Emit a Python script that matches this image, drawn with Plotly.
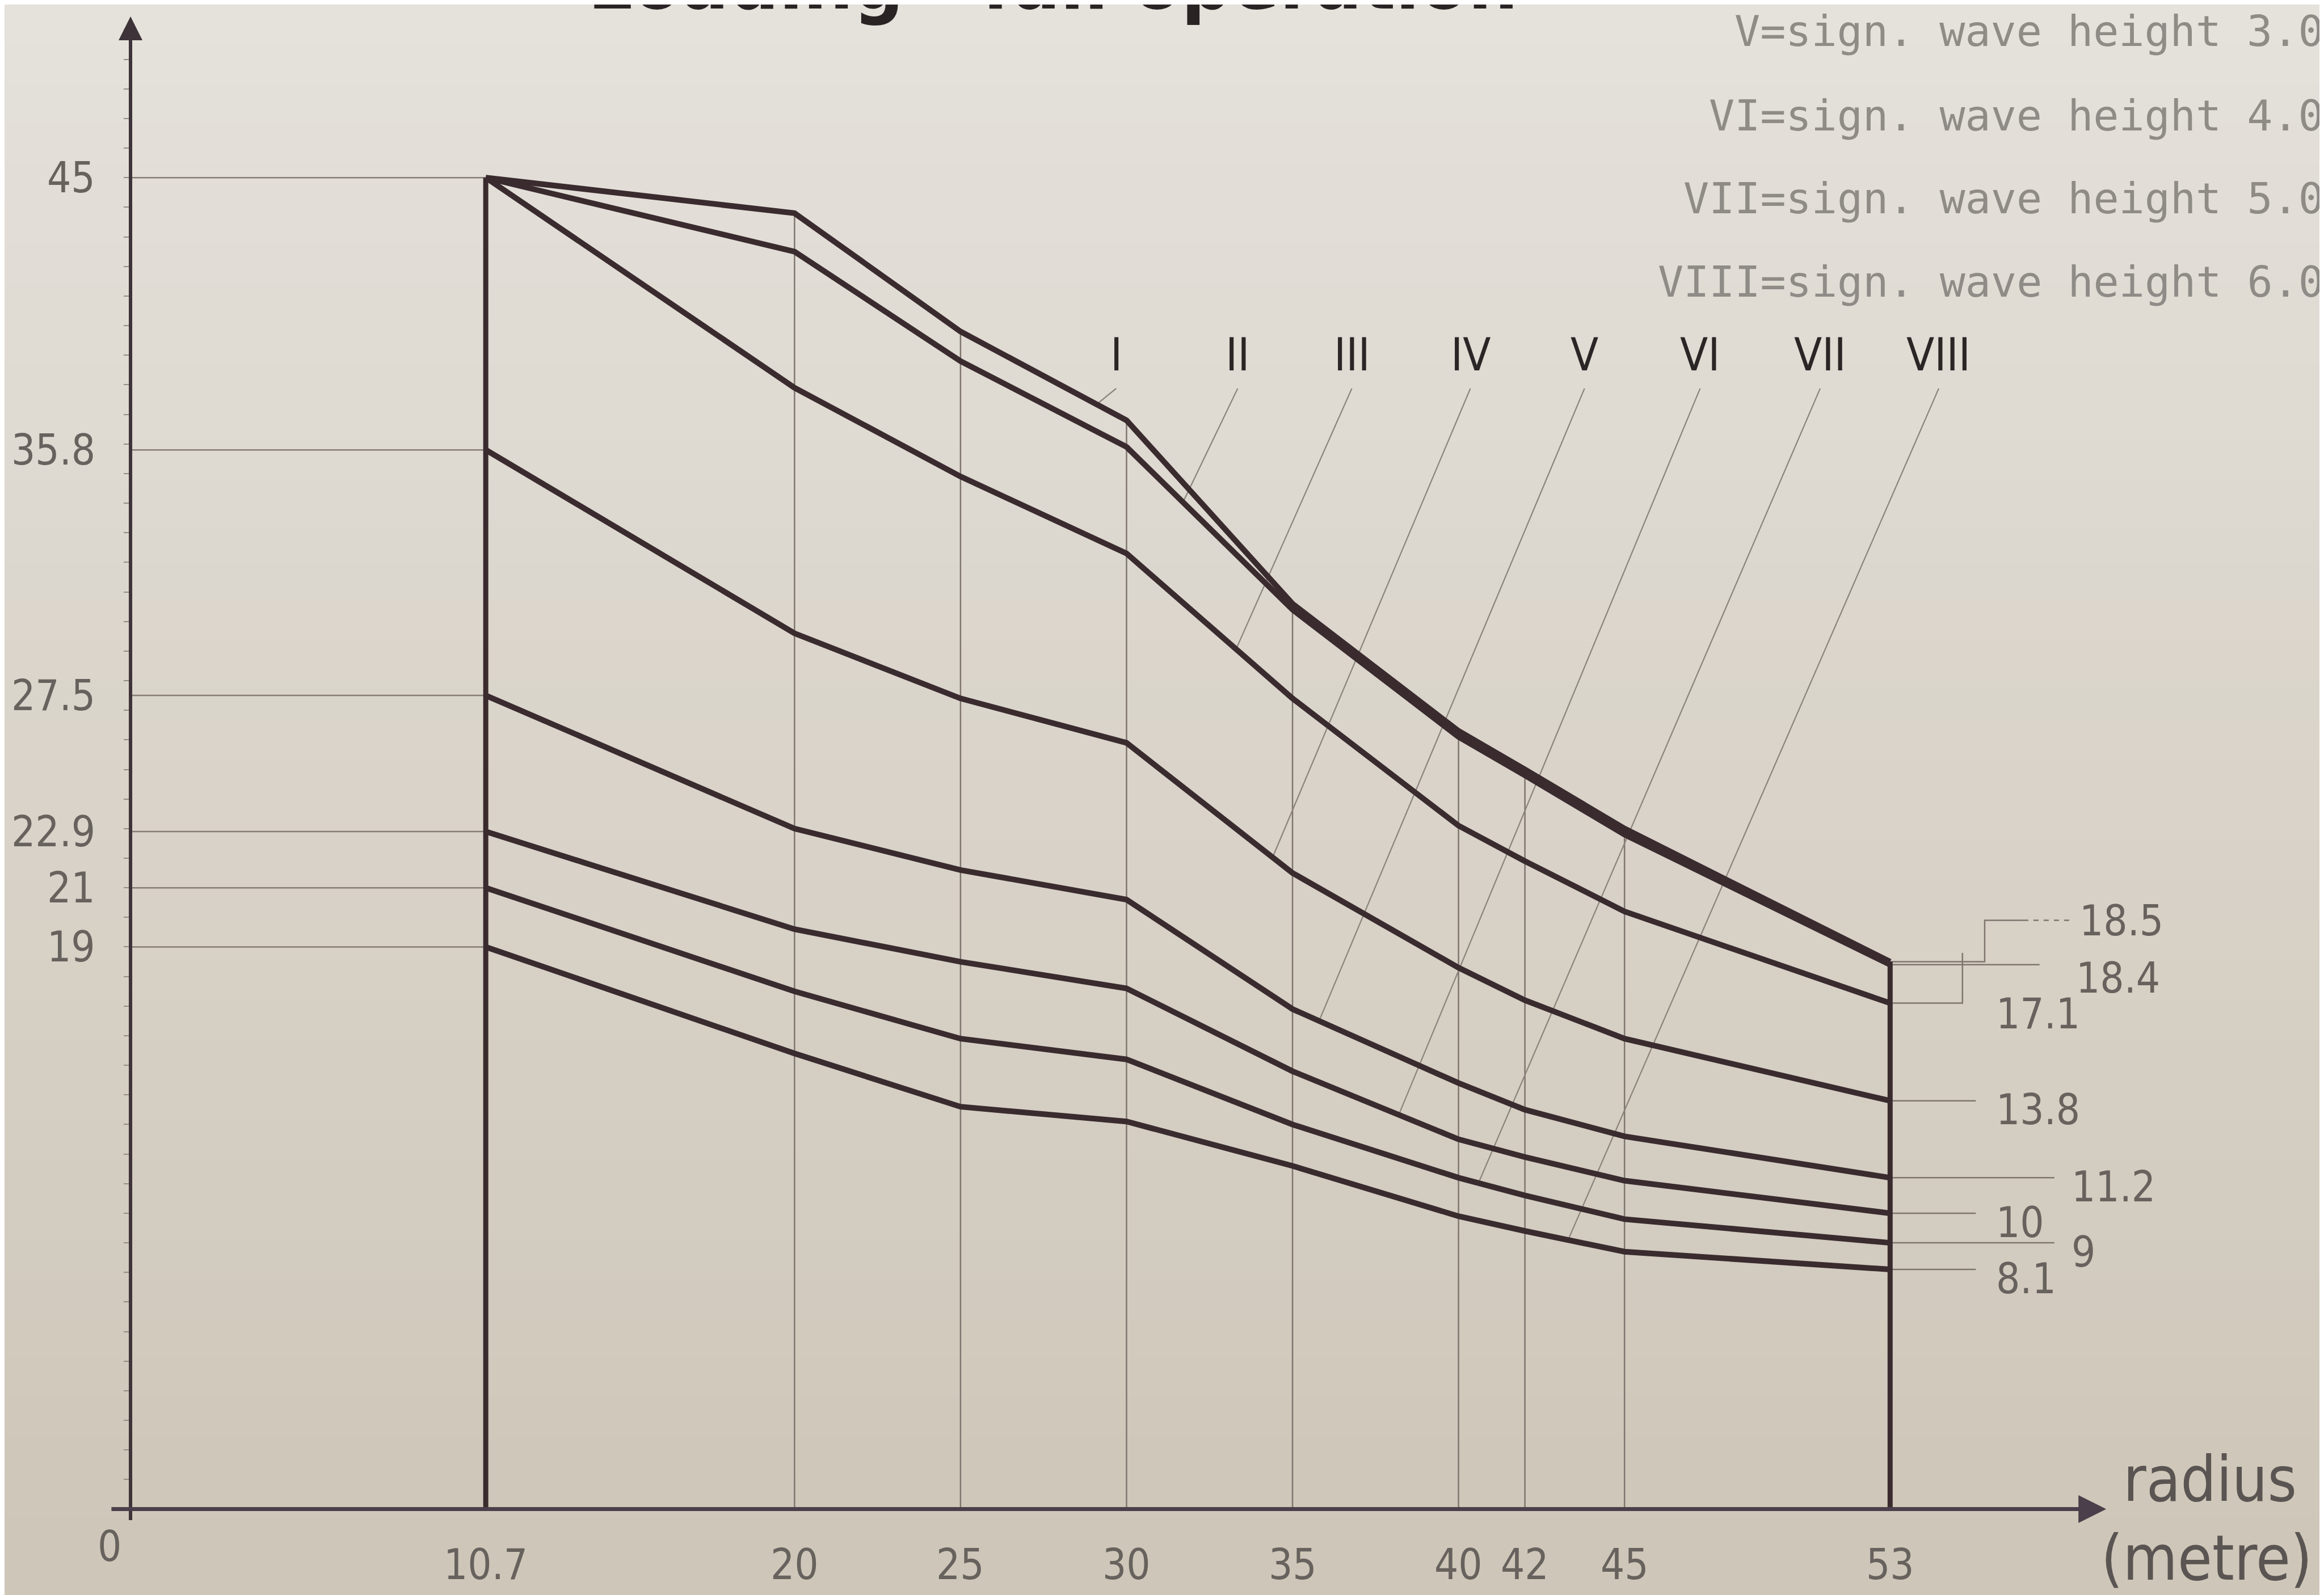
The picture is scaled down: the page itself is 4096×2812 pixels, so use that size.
import numpy as np
import plotly.graph_objects as go

# ---------------- data ----------------
radius = [10.7, 20, 25, 30, 35, 40, 42, 45, 53]
curve_names = ["I", "II", "III", "IV", "V", "VI", "VII", "VIII"]
curve_I = [45.0, 43.8, 39.8, 36.8, 30.6, 26.3, 25.0, 23.0, 18.5]
curve_II = [45.0, 42.5, 38.8, 35.9, 30.4, 26.1, 24.8, 22.8, 18.4]
curve_III = [45.0, 37.9, 34.9, 32.3, 27.4, 23.1, 21.9, 20.2, 17.1]
curve_IV = [35.8, 29.6, 27.4, 25.9, 21.5, 18.3, 17.2, 15.9, 13.8]
curve_V = [27.5, 23.0, 21.6, 20.6, 16.9, 14.4, 13.5, 12.6, 11.2]
curve_VI = [22.9, 19.6, 18.5, 17.6, 14.8, 12.5, 11.9, 11.1, 10.0]
curve_VII = [21.0, 17.5, 15.9, 15.2, 13.0, 11.2, 10.6, 9.8, 9.0]
curve_VIII = [19.0, 15.4, 13.6, 13.1, 11.6, 9.9, 9.4, 8.7, 8.1]

start_ticks = [45, 35.8, 27.5, 22.9, 21, 19]
start_labels = ["45", "35.8", "27.5", "22.9", "21", "19"]
radius_ticks = [0, 10.7, 20, 25, 30, 35, 40, 42, 45, 53]
radius_labels = ["0", "10.7", "20", "25", "30", "35", "40", "42", "45", "53"]
end_ticks = [18.5, 18.4, 17.1, 13.8, 11.2, 10, 9, 8.1]
end_labels = ["18.5", "18.4", "17.1", "13.8", "11.2", "10", "9", "8.1"]
legend_lines = [
    "V=sign. wave height 3.0",
    "VI=sign. wave height 4.0",
    "VII=sign. wave height 5.0",
    "VIII=sign. wave height 6.0",
]
title_text = "Loading - fall operation"
axis_title = ["radius", "(metre)"]

curves = [curve_I, curve_II, curve_III, curve_IV, curve_V, curve_VI, curve_VII, curve_VIII]

# ---------------- layout helpers (positions / styles) ----------------
W, H = 4096, 2812
K = W / 1568.0


def px_x(p):
    return (p - 85.0) / 22.4


def px_y(p):
    return (1015.0 - p) / 19.96


X_RANGE = [px_x(0), px_x(1568)]
Y_RANGE = [px_y(1076), px_y(0)]

INK = "#3a2b2f"
AXIS = "#3d3338"
THIN = "#7e766f"
LABEL = "#67625d"
FONT = "Liberation Sans Narrow, DejaVu Sans Condensed, Liberation Sans, Arial, sans-serif"
NUM_SIZE = 74

# leader geometry for roman labels (x of label / x where leader meets curve)
roman_label_x = [px_x(p) for p in [750, 832, 909, 989, 1066, 1144, 1225, 1305]]
roman_point_x = [29.1, 31.7, 33.3, 34.4, 35.8, 38.2, 40.6, 43.3]
ROMAN_LABEL_Y = px_y(255)
ROMAN_LEADER_TOP = px_y(259)

SHORT_END, SHORT_LAB = px_x(1330), px_x(1343)
LONG_END, LONG_LAB = px_x(1383), px_x(1394)

fig = go.Figure()

# background gradient
top_rgb = np.array([229, 225, 219])
bot_rgb = np.array([206, 198, 184])
nb = 40
for i in range(nb):
    t = i / (nb - 1)
    c = top_rgb * (1 - t) + bot_rgb * t
    fig.add_shape(type="rect", xref="paper", yref="paper", x0=0, x1=1,
                  y0=1 - (i + 1) / nb, y1=1 - i / nb + 0.001, layer="below",
                  line=dict(width=0),
                  fillcolor="rgb(%d,%d,%d)" % tuple(c.astype(int)))


def seg(xs, ys, color=THIN, width=2.5, dash=None):
    fig.add_trace(go.Scatter(x=xs, y=ys, mode="lines",
                             line=dict(color=color, width=width, dash=dash),
                             hoverinfo="skip", showlegend=False))


def label(x, y, text, size=NUM_SIZE, color=LABEL, **kw):
    fig.add_annotation(x=x, y=y, text=text, showarrow=False,
                       font=dict(family=FONT, size=size, color=color), **kw)


# thin interior verticals up to the top curve
for i in range(1, len(radius) - 1):
    seg([radius[i], radius[i]], [0, curve_I[i]])

# left reference lines
for v in start_ticks:
    seg([0, radius[0]], [v, v], color="#857d76", width=2.5)

# right leaders
end_top = max(c[-1] for c in curves)
# 18.5 bracket (jogs up above the line)
bx = px_x(1336)
by = end_ticks[0] + 1.4
seg([radius[-1], bx, bx, px_x(1362)], [end_ticks[0], end_ticks[0], by, by], width=2.5)
seg([px_x(1362), px_x(1394)], [by, by], width=2.5, dash="dash")
label(px_x(1399), by, end_labels[0], xanchor="left")
# 18.4
seg([radius[-1], px_x(1373)], [end_ticks[1], end_ticks[1]], width=2.5)
label(px_x(1397), end_ticks[1] - 0.45, end_labels[1], xanchor="left")
# 17.1 with small bracket
kx = px_x(1321)
seg([radius[-1], kx, kx], [end_ticks[2], end_ticks[2], end_ticks[1] + 0.4], width=2.5)
label(SHORT_LAB, end_ticks[2] - 0.35, end_labels[2], xanchor="left")
# remaining
pattern = [False, True, False, True, False]
for v, t, is_long in zip(end_ticks[3:], end_labels[3:], pattern):
    xe = LONG_END if is_long else SHORT_END
    xl = LONG_LAB if is_long else SHORT_LAB
    seg([radius[-1], xe], [v, v], width=2.5)
    label(xl, v - 0.3, t, xanchor="left")

# roman leaders
for name, lx, pxv, c in zip(curve_names, roman_label_x, roman_point_x, curves):
    yc = float(np.interp(pxv, radius, c))
    seg([lx, pxv], [ROMAN_LEADER_TOP, yc], color="#8a837c", width=2.2)
    label(lx, ROMAN_LABEL_Y, name, size=80, color="#2b2626", yanchor="bottom")

# thick boundary verticals
seg([radius[0], radius[0]], [0, max(c[0] for c in curves)], color=INK, width=9)
seg([radius[-1], radius[-1]], [0, end_top], color=INK, width=9)

# curves
for name, c in zip(curve_names, curves):
    fig.add_trace(go.Scatter(x=radius, y=c, mode="lines", name=name,
                             line=dict(color=INK, width=10), hoverinfo="skip",
                             showlegend=False))

# axes with arrows
fig.add_annotation(x=0, y=px_y(8), ax=0, ay=-0.4, xref="x", yref="y", axref="x", ayref="y",
                   text="", showarrow=True, arrowhead=2, arrowsize=1.4, arrowwidth=6,
                   arrowcolor=AXIS, standoff=0, startstandoff=0)
fig.add_annotation(x=px_x(1418), y=0, ax=-0.6, ay=0, xref="x", yref="y", axref="x", ayref="y",
                   text="", showarrow=True, arrowhead=2, arrowsize=1.4, arrowwidth=7,
                   arrowcolor="#4a3f4a", standoff=0, startstandoff=0)

# y labels
for v, t in zip(start_ticks, start_labels):
    label(0, v, t, xanchor="right", xshift=-(85 - 62) * K)

# x labels
for v, t in zip(radius_ticks, radius_labels):
    if v == 0:
        label(v, 0, t, yanchor="top", xshift=-14 * K, yshift=-8 * K)
    else:
        label(v, 0, t, yanchor="top", yshift=-20 * K)

# axis title
label(px_x(1488), px_y(995), axis_title[0], size=110, color="#5a5552")
label(px_x(1486), px_y(1048), axis_title[1], size=110, color="#5a5552")

# legend block (top right)
for i, line in enumerate(legend_lines):
    yc = [18, 75, 131, 187][i]
    fig.add_annotation(xref="paper", yref="paper", x=0.9985, y=1 - yc / 1076.0,
                       text=line, showarrow=False, xanchor="right", yanchor="middle",
                       font=dict(family="DejaVu Sans Mono", size=75, color="#8f8b86"))

# title (cut off at top, as in the photo)
fig.add_annotation(xref="paper", yref="paper", x=1022 / 1568.0, y=1 - 42 / 2812.0,
                   text="<b>" + title_text + "</b>", showarrow=False, xanchor="right",
                   yanchor="bottom", font=dict(family=FONT, size=138, color="#2a2324"))

fig.update_layout(
    width=W, height=H,
    margin=dict(l=0, r=0, t=0, b=0),
    paper_bgcolor="#dcd5ca",
    plot_bgcolor="rgba(0,0,0,0)",
    showlegend=False,
    xaxis=dict(range=X_RANGE, showgrid=False, zeroline=False, showline=False,
               showticklabels=False, ticks="", fixedrange=True),
    yaxis=dict(range=Y_RANGE, showgrid=False, zeroline=False, showline=False,
               showticklabels=False, ticks="outside", tickvals=list(range(1, 51)),
               ticklen=12, tickwidth=2, tickcolor="#958d84",
               anchor="free", position=85 / 1568.0, fixedrange=True),
)

fig.write_html("out.html")
